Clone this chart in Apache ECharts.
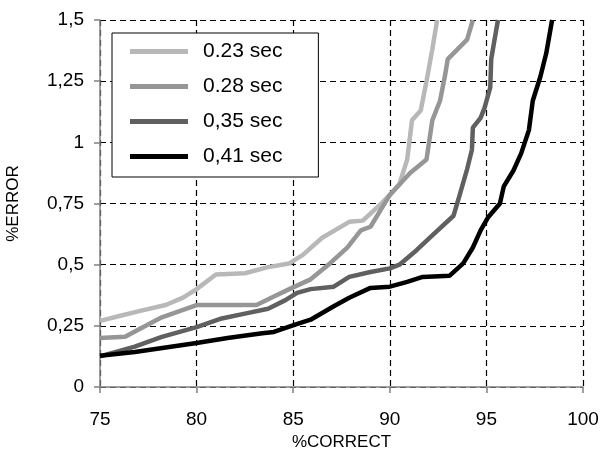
<!DOCTYPE html>
<html>
<head>
<meta charset="utf-8">
<script src="https://cdn.jsdelivr.net/npm/echarts@6/dist/echarts.min.js"></script>
<style>
  html, body { margin: 0; padding: 0; background: #fff; }
  #chart { width: 602px; height: 452px; }
</style>
</head>
<body>
<div id="chart"></div>
<script>
// values: [%correct, %error]
const names = ['0.23 sec', '0.28 sec', '0,35 sec', '0,41 sec']
const colors = ['#b8b8b8', '#969696', '#606060', '#000000']

const s023 = [[75,0.27],[76,0.29],[77.3,0.315],[78.4,0.335],[79.3,0.365],[80,0.40],[81,0.46],[82.5,0.465],
  [83.7,0.49],[84.8,0.505],[85.5,0.54],[86.5,0.61],[87.9,0.675],[88.6,0.68],[89.5,0.745],[90,0.785],
  [90.5,0.83],[90.9,0.93],[91.15,1.09],[91.6,1.13],[91.9,1.25],[92.2,1.38],[92.45,1.5]]
const s028 = [[75,0.20],[76.3,0.205],[77,0.235],[78.2,0.285],[80,0.335],[83.1,0.335],[84,0.37],[84.8,0.40],
  [85.9,0.44],[86.9,0.505],[87.8,0.57],[88.5,0.64],[89,0.655],[89.5,0.72],[90,0.785],[91.05,0.875],
  [91.9,0.93],[92.2,1.09],[92.6,1.17],[92.85,1.27],[93,1.34],[93.5,1.38],[94,1.42],[94.3,1.5]]
const s035 = [[75,0.125],[76.8,0.165],[78.2,0.205],[80,0.245],[81.3,0.28],[82.5,0.30],[83.7,0.32],[84.6,0.355],
  [85.2,0.385],[85.9,0.40],[87.1,0.41],[87.9,0.45],[89,0.47],[90,0.485],[90.5,0.50],[91.4,0.56],
  [92.2,0.62],[93.3,0.70],[93.6,0.78],[94,0.89],[94.25,0.97],[94.3,1.06],[94.7,1.10],[94.9,1.14],
  [95.2,1.225],[95.25,1.34],[95.4,1.41],[95.6,1.5]]
const s041 = [[75,0.128],[76.8,0.143],[80,0.18],[81.6,0.20],[83.4,0.22],[84,0.225],[85.1,0.255],[85.9,0.275],
  [87.1,0.33],[87.9,0.365],[89,0.405],[90,0.41],[90.9,0.43],[91.7,0.45],[93.1,0.455],[93.8,0.505],
  [94.3,0.57],[94.7,0.64],[95.1,0.695],[95.7,0.75],[95.9,0.82],[96.4,0.885],[96.8,0.955],[97.2,1.05],
  [97.4,1.17],[97.8,1.27],[98.1,1.365],[98.4,1.5]]
const seriesData = [s023, s028, s035, s041]

const font = 'Liberation Sans, Arial, sans-serif'

var myChart = echarts.init(document.getElementById('chart'))
myChart.setOption({
    animation: false,
    backgroundColor: '#fff',
    grid: {
        left: 100,
        right: 19,
        top: 20,
        bottom: 65,
        outerBoundsMode: 'none',
        containLabel: false
    },
    legend: {
        left: 112,
        top: 33,
        orient: 'vertical',
        data: names,
        itemWidth: 58,
        itemHeight: 5,
        itemGap: 14,
        icon: 'rect',
        padding: [8, 36, 10, 18],
        borderColor: '#000',
        borderWidth: 1,
        backgroundColor: '#fff',
        textStyle: {
            fontFamily: font,
            fontSize: 21,
            color: '#000',
            padding: [0, 0, 0, 10]
        }
    },
    xAxis: {
        type: 'value',
        min: 75,
        max: 100,
        interval: 5,
        name: '%CORRECT',
        nameLocation: 'middle',
        nameGap: 44,
        nameTextStyle: { fontFamily: font, fontSize: 17, color: '#000' },
        axisLine: { lineStyle: { color: '#808080', width: 1.5 } },
        axisTick: { length: 6, lineStyle: { color: '#808080', width: 1.5 } },
        axisLabel: { fontFamily: font, fontSize: 19, color: '#000', margin: 23 },
        splitLine: { show: true, lineStyle: { color: '#000', width: 1.2, type: [6, 4] } }
    },
    yAxis: {
        type: 'value',
        min: 0,
        max: 1.5,
        interval: 0.25,
        name: '%ERROR',
        nameLocation: 'middle',
        nameGap: 78,
        nameTextStyle: { fontFamily: font, fontSize: 17, color: '#000' },
        axisLine: { show: true, lineStyle: { color: '#808080', width: 1.5 } },
        axisTick: { show: true, length: 6, lineStyle: { color: '#808080', width: 1.5 } },
        axisLabel: {
            fontFamily: font, fontSize: 19, color: '#000', margin: 16,
            formatter: function (v) { return String(v).replace('.', ',') }
        },
        splitLine: { show: true, lineStyle: { color: '#000', width: 1.2, type: [6, 4] } }
    },
    series: seriesData.map(function (d, i) {
        return {
            name: names[i],
            type: 'line',
            data: d,
            showSymbol: false,
            color: colors[i],
            lineStyle: { color: colors[i], width: 4.5 }
        }
    })
})
</script>
</body>
</html>
